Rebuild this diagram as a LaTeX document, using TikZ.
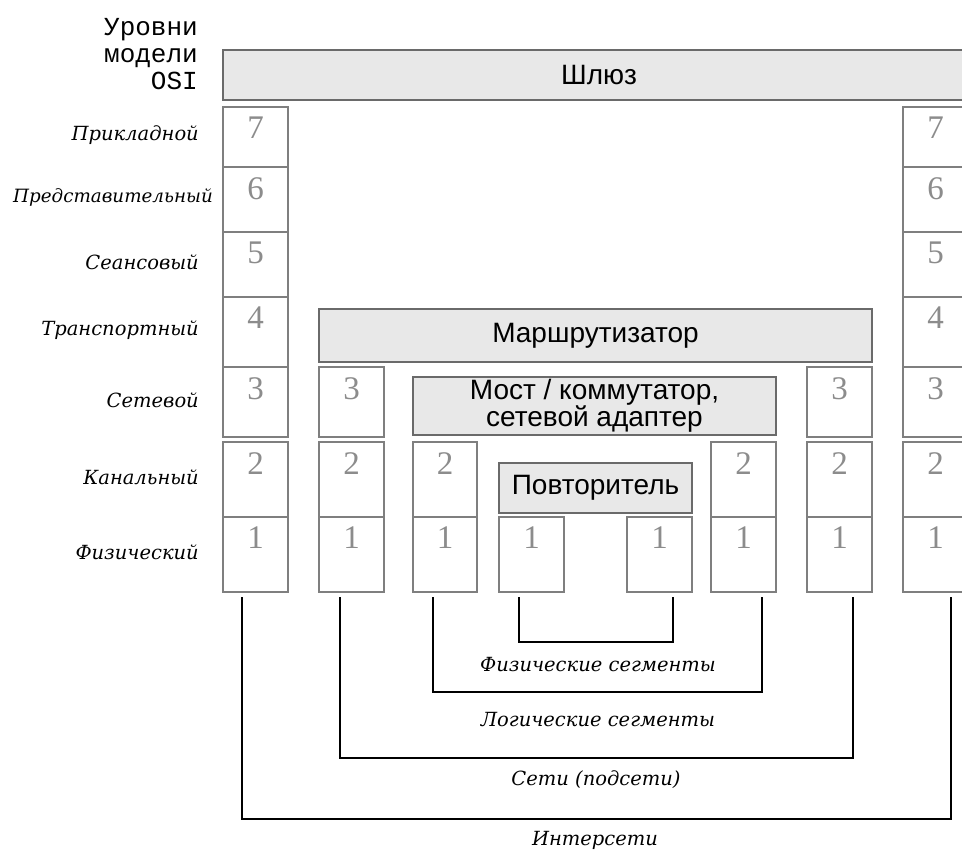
\documentclass[tikz,border=0pt]{standalone}
\usepackage{fontspec}
\setmainfont{Liberation Sans}
\newfontfamily\lblfont{DejaVu Serif}
\newfontfamily\osifont{Liberation Mono}
\newfontfamily\digfont{Liberation Serif}
\definecolor{boxline}{HTML}{7F7F7F}
\definecolor{devline}{HTML}{6A6A6A}
\definecolor{boxfill}{HTML}{E8E8E8}
\definecolor{digitc}{HTML}{8C8C8C}
\tikzset{
  laybox/.style={draw=boxline, line width=1.6pt, fill=white, inner sep=0pt, outer sep=0pt},
  devbox/.style={draw=devline, line width=1.8pt, fill=boxfill, inner sep=0pt, outer sep=0pt,
    font=\fontsize{28}{25}\selectfont},
  digit/.style={font=\digfont\fontsize{33}{33}\selectfont, text=digitc, inner sep=0pt,
    anchor=north, yshift=-10pt},
  lvl/.style={font=\lblfont\itshape\fontsize{19.5}{20}\selectfont, anchor=east, inner sep=0pt},
  seglbl/.style={font=\lblfont\itshape\fontsize{19.5}{20}\selectfont, inner sep=0pt},
  bracket/.style={line width=1.8pt, black},
}
\newcommand{\lbox}[6]{\node[laybox, minimum width={(#4)-(#2)}, minimum height={(#5)-(#3)},
  label={[digit]north:#6}] (#1) at ({((#2)+(#4))/2},{((#3)+(#5))/2}) {};}
\begin{document}
\begin{tikzpicture}[x=1pt,y=-1pt]
\fill[white] (0,0) rectangle (962,850);
\useasboundingbox (0,0) rectangle (962,850);
\clip (0,0) rectangle (962,850);
% OSI title
\node[font=\osifont\fontsize{26}{27}\selectfont, align=right, anchor=north east, inner sep=0pt]
  (osi) at (198,18) {Уровни\\модели\\OSI};
% gateway
\node[devbox, minimum width=752, minimum height=50] (gw) at (599,75) {Шлюз};
% left column
\lbox{L7}{223}{107}{288}{167}{7}
\lbox{L6}{223}{167}{288}{232}{6}
\lbox{L5}{223}{232}{288}{297}{5}
\lbox{L4}{223}{297}{288}{367}{4}
\lbox{L3}{223}{367}{288}{437}{3}
\lbox{L2}{223}{442}{288}{517}{2}
\lbox{L1}{223}{517}{288}{592}{1}
% right column
\lbox{R7}{903}{107}{968}{167}{7}
\lbox{R6}{903}{167}{968}{232}{6}
\lbox{R5}{903}{232}{968}{297}{5}
\lbox{R4}{903}{297}{968}{367}{4}
\lbox{R3}{903}{367}{968}{437}{3}
\lbox{R2}{903}{442}{968}{517}{2}
\lbox{R1}{903}{517}{968}{592}{1}
% router
\node[devbox, minimum width=553, minimum height=53] (rt) at (595.5,335.5) {Маршрутизатор};
% column 2 and 7
\lbox{Ca3}{319}{367}{384}{437}{3}
\lbox{Ca2}{319}{442}{384}{517}{2}
\lbox{Ca1}{319}{517}{384}{592}{1}
\lbox{Cg3}{807}{367}{872}{437}{3}
\lbox{Cg2}{807}{442}{872}{517}{2}
\lbox{Cg1}{807}{517}{872}{592}{1}
% bridge
\node[devbox, minimum width=363, minimum height=58, align=center] (bridge) at (594.5,406)
  {Мост / коммутатор,\\[-1pt]сетевой адаптер};
% column 3 and 6
\lbox{Cb2}{413}{442}{477}{517}{2}
\lbox{Cb1}{413}{517}{477}{592}{1}
\lbox{Cf2}{711}{442}{776}{517}{2}
\lbox{Cf1}{711}{517}{776}{592}{1}
% repeater
\node[devbox, minimum width=193, minimum height=50] (rep) at (595.5,488) {Повторитель};
\lbox{Cc1}{499}{517}{564}{592}{1}
\lbox{Ce1}{627}{517}{692}{592}{1}
% level names
\node[lvl] (n7) at (199,135) {Прикладной};
\node[lvl, font=\lblfont\itshape\fontsize{18.3}{20}\selectfont] (n6) at (213,197) {Представительный};
\node[lvl] (n5) at (199,262) {Сеансовый};
\node[lvl] (n4) at (199,330) {Транспортный};
\node[lvl] (n3) at (199,400) {Сетевой};
\node[lvl] (n2) at (199,477) {Канальный};
\node[lvl] (n1) at (199,552) {Физический};
% brackets
\draw[bracket] ([xshift=-12.5pt,yshift=-5pt]Cc1.south) |- ([xshift=13.5pt,yshift=-50pt]Ce1.south)
  -- ([xshift=13.5pt,yshift=-5pt]Ce1.south);
\draw[bracket] ([xshift=-12pt,yshift=-5pt]Cb1.south) |- ([xshift=18.5pt,yshift=-100pt]Cf1.south)
  -- ([xshift=18.5pt,yshift=-5pt]Cf1.south);
\draw[bracket] ([xshift=-11.5pt,yshift=-5pt]Ca1.south) |- ([xshift=13.5pt,yshift=-166pt]Cg1.south)
  -- ([xshift=13.5pt,yshift=-5pt]Cg1.south);
\draw[bracket] ([xshift=-13.5pt,yshift=-5pt]L1.south) |- ([xshift=15.5pt,yshift=-227pt]R1.south)
  -- ([xshift=15.5pt,yshift=-5pt]R1.south);
% bracket labels
\node[seglbl] (lphys) at (598,665) {Физические сегменты};
\node[seglbl] (llog) at (598,720) {Логические сегменты};
\node[seglbl] (lnet) at (596,780) {Сети (подсети)};
\node[seglbl] (linet) at (595,840) {Интерсети};
\end{tikzpicture}
\end{document}
